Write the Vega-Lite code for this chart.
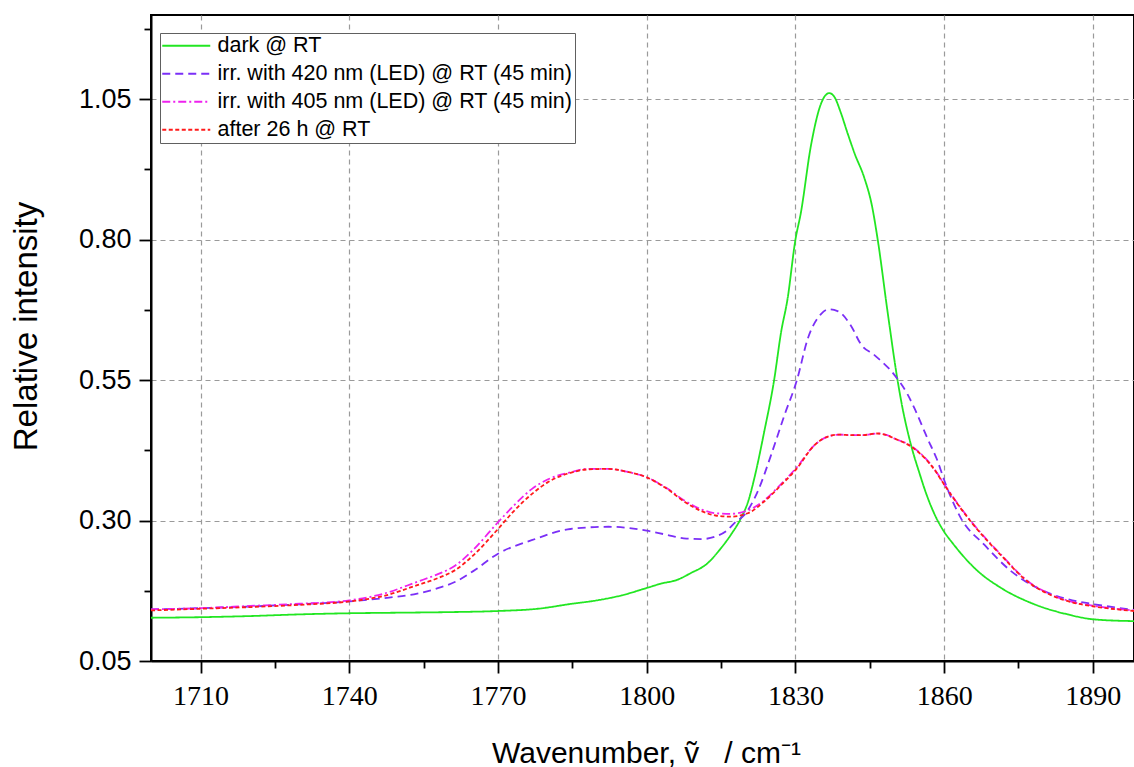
{
  "$schema": "https://vega.github.io/schema/vega-lite/v6.json",
  "autosize": {"type": "none"},
  "padding": {"left": 151, "top": 15, "right": 0, "bottom": 106},
  "width": 983,
  "height": 646,
  "background": "white",
  "config": {
    "font": "Liberation Sans",
    "view": {"stroke": "#000000", "strokeWidth": 2},
    "axis": {
      "domainColor": "#000000",
      "domainWidth": 2,
      "tickColor": "#000000",
      "tickWidth": 1.8,
      "labelColor": "#000000",
      "titleColor": "#000000",
      "titleFontWeight": "normal",
      "gridColor": "#9a9a9a",
      "gridDash": [5, 4],
      "gridWidth": 1.2
    }
  },
  "data": {
    "values": [
      {"wavenumber": 1700, "series": "dark @ RT", "intensity": 0.127},
      {"wavenumber": 1710, "series": "dark @ RT", "intensity": 0.128},
      {"wavenumber": 1720, "series": "dark @ RT", "intensity": 0.130},
      {"wavenumber": 1730, "series": "dark @ RT", "intensity": 0.133},
      {"wavenumber": 1740, "series": "dark @ RT", "intensity": 0.135},
      {"wavenumber": 1750, "series": "dark @ RT", "intensity": 0.136},
      {"wavenumber": 1760, "series": "dark @ RT", "intensity": 0.137},
      {"wavenumber": 1770, "series": "dark @ RT", "intensity": 0.139},
      {"wavenumber": 1778, "series": "dark @ RT", "intensity": 0.143},
      {"wavenumber": 1785, "series": "dark @ RT", "intensity": 0.152},
      {"wavenumber": 1790, "series": "dark @ RT", "intensity": 0.158},
      {"wavenumber": 1795, "series": "dark @ RT", "intensity": 0.167},
      {"wavenumber": 1800, "series": "dark @ RT", "intensity": 0.180},
      {"wavenumber": 1803, "series": "dark @ RT", "intensity": 0.188},
      {"wavenumber": 1806, "series": "dark @ RT", "intensity": 0.194},
      {"wavenumber": 1809, "series": "dark @ RT", "intensity": 0.207},
      {"wavenumber": 1812, "series": "dark @ RT", "intensity": 0.222},
      {"wavenumber": 1815, "series": "dark @ RT", "intensity": 0.251},
      {"wavenumber": 1817, "series": "dark @ RT", "intensity": 0.275},
      {"wavenumber": 1819, "series": "dark @ RT", "intensity": 0.304},
      {"wavenumber": 1820.5, "series": "dark @ RT", "intensity": 0.335},
      {"wavenumber": 1821.7, "series": "dark @ RT", "intensity": 0.375},
      {"wavenumber": 1823.7, "series": "dark @ RT", "intensity": 0.458},
      {"wavenumber": 1825.7, "series": "dark @ RT", "intensity": 0.550},
      {"wavenumber": 1827.1, "series": "dark @ RT", "intensity": 0.635},
      {"wavenumber": 1828.4, "series": "dark @ RT", "intensity": 0.694},
      {"wavenumber": 1830, "series": "dark @ RT", "intensity": 0.800},
      {"wavenumber": 1831.1, "series": "dark @ RT", "intensity": 0.848},
      {"wavenumber": 1833.1, "series": "dark @ RT", "intensity": 0.966},
      {"wavenumber": 1835.2, "series": "dark @ RT", "intensity": 1.043},
      {"wavenumber": 1836.8, "series": "dark @ RT", "intensity": 1.061},
      {"wavenumber": 1837.8, "series": "dark @ RT", "intensity": 1.055},
      {"wavenumber": 1839.2, "series": "dark @ RT", "intensity": 1.025},
      {"wavenumber": 1840.5, "series": "dark @ RT", "intensity": 0.990},
      {"wavenumber": 1842, "series": "dark @ RT", "intensity": 0.952},
      {"wavenumber": 1843.9, "series": "dark @ RT", "intensity": 0.910},
      {"wavenumber": 1845.4, "series": "dark @ RT", "intensity": 0.862},
      {"wavenumber": 1846.6, "series": "dark @ RT", "intensity": 0.800},
      {"wavenumber": 1848.6, "series": "dark @ RT", "intensity": 0.671},
      {"wavenumber": 1850.6, "series": "dark @ RT", "intensity": 0.550},
      {"wavenumber": 1851.5, "series": "dark @ RT", "intensity": 0.505},
      {"wavenumber": 1853.3, "series": "dark @ RT", "intensity": 0.435},
      {"wavenumber": 1855, "series": "dark @ RT", "intensity": 0.385},
      {"wavenumber": 1856.5, "series": "dark @ RT", "intensity": 0.345},
      {"wavenumber": 1858.4, "series": "dark @ RT", "intensity": 0.305},
      {"wavenumber": 1860, "series": "dark @ RT", "intensity": 0.280},
      {"wavenumber": 1861.6, "series": "dark @ RT", "intensity": 0.261},
      {"wavenumber": 1866.8, "series": "dark @ RT", "intensity": 0.210},
      {"wavenumber": 1871.5, "series": "dark @ RT", "intensity": 0.180},
      {"wavenumber": 1878.2, "series": "dark @ RT", "intensity": 0.151},
      {"wavenumber": 1884.9, "series": "dark @ RT", "intensity": 0.133},
      {"wavenumber": 1890.3, "series": "dark @ RT", "intensity": 0.124},
      {"wavenumber": 1898.3, "series": "dark @ RT", "intensity": 0.121},

      {"wavenumber": 1700, "series": "irr. with 420 nm (LED) @ RT (45 min)", "intensity": 0.142},
      {"wavenumber": 1710, "series": "irr. with 420 nm (LED) @ RT (45 min)", "intensity": 0.144},
      {"wavenumber": 1720, "series": "irr. with 420 nm (LED) @ RT (45 min)", "intensity": 0.147},
      {"wavenumber": 1730, "series": "irr. with 420 nm (LED) @ RT (45 min)", "intensity": 0.151},
      {"wavenumber": 1740, "series": "irr. with 420 nm (LED) @ RT (45 min)", "intensity": 0.156},
      {"wavenumber": 1748, "series": "irr. with 420 nm (LED) @ RT (45 min)", "intensity": 0.163},
      {"wavenumber": 1753.7, "series": "irr. with 420 nm (LED) @ RT (45 min)", "intensity": 0.170},
      {"wavenumber": 1758, "series": "irr. with 420 nm (LED) @ RT (45 min)", "intensity": 0.180},
      {"wavenumber": 1761.4, "series": "irr. with 420 nm (LED) @ RT (45 min)", "intensity": 0.191},
      {"wavenumber": 1765, "series": "irr. with 420 nm (LED) @ RT (45 min)", "intensity": 0.210},
      {"wavenumber": 1770, "series": "irr. with 420 nm (LED) @ RT (45 min)", "intensity": 0.241},
      {"wavenumber": 1776.8, "series": "irr. with 420 nm (LED) @ RT (45 min)", "intensity": 0.265},
      {"wavenumber": 1784.6, "series": "irr. with 420 nm (LED) @ RT (45 min)", "intensity": 0.285},
      {"wavenumber": 1792.3, "series": "irr. with 420 nm (LED) @ RT (45 min)", "intensity": 0.289},
      {"wavenumber": 1800, "series": "irr. with 420 nm (LED) @ RT (45 min)", "intensity": 0.282},
      {"wavenumber": 1803.9, "series": "irr. with 420 nm (LED) @ RT (45 min)", "intensity": 0.275},
      {"wavenumber": 1808, "series": "irr. with 420 nm (LED) @ RT (45 min)", "intensity": 0.268},
      {"wavenumber": 1811, "series": "irr. with 420 nm (LED) @ RT (45 min)", "intensity": 0.267},
      {"wavenumber": 1814, "series": "irr. with 420 nm (LED) @ RT (45 min)", "intensity": 0.272},
      {"wavenumber": 1816, "series": "irr. with 420 nm (LED) @ RT (45 min)", "intensity": 0.281},
      {"wavenumber": 1818, "series": "irr. with 420 nm (LED) @ RT (45 min)", "intensity": 0.298},
      {"wavenumber": 1819.7, "series": "irr. with 420 nm (LED) @ RT (45 min)", "intensity": 0.310},
      {"wavenumber": 1822.4, "series": "irr. with 420 nm (LED) @ RT (45 min)", "intensity": 0.352},
      {"wavenumber": 1825.1, "series": "irr. with 420 nm (LED) @ RT (45 min)", "intensity": 0.417},
      {"wavenumber": 1827.8, "series": "irr. with 420 nm (LED) @ RT (45 min)", "intensity": 0.488},
      {"wavenumber": 1830.3, "series": "irr. with 420 nm (LED) @ RT (45 min)", "intensity": 0.550},
      {"wavenumber": 1832.5, "series": "irr. with 420 nm (LED) @ RT (45 min)", "intensity": 0.624},
      {"wavenumber": 1835.2, "series": "irr. with 420 nm (LED) @ RT (45 min)", "intensity": 0.668},
      {"wavenumber": 1836.6, "series": "irr. with 420 nm (LED) @ RT (45 min)", "intensity": 0.676},
      {"wavenumber": 1838.5, "series": "irr. with 420 nm (LED) @ RT (45 min)", "intensity": 0.673},
      {"wavenumber": 1841.2, "series": "irr. with 420 nm (LED) @ RT (45 min)", "intensity": 0.647},
      {"wavenumber": 1843.2, "series": "irr. with 420 nm (LED) @ RT (45 min)", "intensity": 0.614},
      {"wavenumber": 1846, "series": "irr. with 420 nm (LED) @ RT (45 min)", "intensity": 0.594},
      {"wavenumber": 1850, "series": "irr. with 420 nm (LED) @ RT (45 min)", "intensity": 0.559},
      {"wavenumber": 1852.6, "series": "irr. with 420 nm (LED) @ RT (45 min)", "intensity": 0.525},
      {"wavenumber": 1854, "series": "irr. with 420 nm (LED) @ RT (45 min)", "intensity": 0.500},
      {"wavenumber": 1856.7, "series": "irr. with 420 nm (LED) @ RT (45 min)", "intensity": 0.445},
      {"wavenumber": 1858.5, "series": "irr. with 420 nm (LED) @ RT (45 min)", "intensity": 0.410},
      {"wavenumber": 1860.3, "series": "irr. with 420 nm (LED) @ RT (45 min)", "intensity": 0.365},
      {"wavenumber": 1863.4, "series": "irr. with 420 nm (LED) @ RT (45 min)", "intensity": 0.304},
      {"wavenumber": 1868.1, "series": "irr. with 420 nm (LED) @ RT (45 min)", "intensity": 0.257},
      {"wavenumber": 1873.5, "series": "irr. with 420 nm (LED) @ RT (45 min)", "intensity": 0.210},
      {"wavenumber": 1878.8, "series": "irr. with 420 nm (LED) @ RT (45 min)", "intensity": 0.180},
      {"wavenumber": 1884.9, "series": "irr. with 420 nm (LED) @ RT (45 min)", "intensity": 0.160},
      {"wavenumber": 1890.3, "series": "irr. with 420 nm (LED) @ RT (45 min)", "intensity": 0.151},
      {"wavenumber": 1898.3, "series": "irr. with 420 nm (LED) @ RT (45 min)", "intensity": 0.141},

      {"wavenumber": 1700, "series": "irr. with 405 nm (LED) @ RT (45 min)", "intensity": 0.142},
      {"wavenumber": 1710, "series": "irr. with 405 nm (LED) @ RT (45 min)", "intensity": 0.144},
      {"wavenumber": 1720, "series": "irr. with 405 nm (LED) @ RT (45 min)", "intensity": 0.148},
      {"wavenumber": 1730, "series": "irr. with 405 nm (LED) @ RT (45 min)", "intensity": 0.152},
      {"wavenumber": 1740, "series": "irr. with 405 nm (LED) @ RT (45 min)", "intensity": 0.158},
      {"wavenumber": 1747, "series": "irr. with 405 nm (LED) @ RT (45 min)", "intensity": 0.170},
      {"wavenumber": 1753.7, "series": "irr. with 405 nm (LED) @ RT (45 min)", "intensity": 0.191},
      {"wavenumber": 1758, "series": "irr. with 405 nm (LED) @ RT (45 min)", "intensity": 0.205},
      {"wavenumber": 1761.4, "series": "irr. with 405 nm (LED) @ RT (45 min)", "intensity": 0.220},
      {"wavenumber": 1765, "series": "irr. with 405 nm (LED) @ RT (45 min)", "intensity": 0.248},
      {"wavenumber": 1770, "series": "irr. with 405 nm (LED) @ RT (45 min)", "intensity": 0.297},
      {"wavenumber": 1773, "series": "irr. with 405 nm (LED) @ RT (45 min)", "intensity": 0.325},
      {"wavenumber": 1776.8, "series": "irr. with 405 nm (LED) @ RT (45 min)", "intensity": 0.356},
      {"wavenumber": 1780, "series": "irr. with 405 nm (LED) @ RT (45 min)", "intensity": 0.373},
      {"wavenumber": 1784.6, "series": "irr. with 405 nm (LED) @ RT (45 min)", "intensity": 0.386},
      {"wavenumber": 1788, "series": "irr. with 405 nm (LED) @ RT (45 min)", "intensity": 0.392},
      {"wavenumber": 1792.3, "series": "irr. with 405 nm (LED) @ RT (45 min)", "intensity": 0.392},
      {"wavenumber": 1796, "series": "irr. with 405 nm (LED) @ RT (45 min)", "intensity": 0.387},
      {"wavenumber": 1800, "series": "irr. with 405 nm (LED) @ RT (45 min)", "intensity": 0.377},
      {"wavenumber": 1804, "series": "irr. with 405 nm (LED) @ RT (45 min)", "intensity": 0.358},
      {"wavenumber": 1807.7, "series": "irr. with 405 nm (LED) @ RT (45 min)", "intensity": 0.335},
      {"wavenumber": 1811, "series": "irr. with 405 nm (LED) @ RT (45 min)", "intensity": 0.320},
      {"wavenumber": 1813.9, "series": "irr. with 405 nm (LED) @ RT (45 min)", "intensity": 0.313},
      {"wavenumber": 1817, "series": "irr. with 405 nm (LED) @ RT (45 min)", "intensity": 0.312},
      {"wavenumber": 1820.4, "series": "irr. with 405 nm (LED) @ RT (45 min)", "intensity": 0.318},
      {"wavenumber": 1823.7, "series": "irr. with 405 nm (LED) @ RT (45 min)", "intensity": 0.336},
      {"wavenumber": 1827.1, "series": "irr. with 405 nm (LED) @ RT (45 min)", "intensity": 0.365},
      {"wavenumber": 1830.3, "series": "irr. with 405 nm (LED) @ RT (45 min)", "intensity": 0.395},
      {"wavenumber": 1833.8, "series": "irr. with 405 nm (LED) @ RT (45 min)", "intensity": 0.434},
      {"wavenumber": 1837.1, "series": "irr. with 405 nm (LED) @ RT (45 min)", "intensity": 0.451},
      {"wavenumber": 1839, "series": "irr. with 405 nm (LED) @ RT (45 min)", "intensity": 0.453},
      {"wavenumber": 1841.2, "series": "irr. with 405 nm (LED) @ RT (45 min)", "intensity": 0.452},
      {"wavenumber": 1843.5, "series": "irr. with 405 nm (LED) @ RT (45 min)", "intensity": 0.452},
      {"wavenumber": 1846.5, "series": "irr. with 405 nm (LED) @ RT (45 min)", "intensity": 0.455},
      {"wavenumber": 1848.5, "series": "irr. with 405 nm (LED) @ RT (45 min)", "intensity": 0.452},
      {"wavenumber": 1850, "series": "irr. with 405 nm (LED) @ RT (45 min)", "intensity": 0.446},
      {"wavenumber": 1853.3, "series": "irr. with 405 nm (LED) @ RT (45 min)", "intensity": 0.433},
      {"wavenumber": 1856, "series": "irr. with 405 nm (LED) @ RT (45 min)", "intensity": 0.413},
      {"wavenumber": 1858, "series": "irr. with 405 nm (LED) @ RT (45 min)", "intensity": 0.392},
      {"wavenumber": 1860.3, "series": "irr. with 405 nm (LED) @ RT (45 min)", "intensity": 0.361},
      {"wavenumber": 1865.4, "series": "irr. with 405 nm (LED) @ RT (45 min)", "intensity": 0.299},
      {"wavenumber": 1871.5, "series": "irr. with 405 nm (LED) @ RT (45 min)", "intensity": 0.239},
      {"wavenumber": 1876.9, "series": "irr. with 405 nm (LED) @ RT (45 min)", "intensity": 0.192},
      {"wavenumber": 1881.6, "series": "irr. with 405 nm (LED) @ RT (45 min)", "intensity": 0.168},
      {"wavenumber": 1886, "series": "irr. with 405 nm (LED) @ RT (45 min)", "intensity": 0.155},
      {"wavenumber": 1890.3, "series": "irr. with 405 nm (LED) @ RT (45 min)", "intensity": 0.148},
      {"wavenumber": 1898.3, "series": "irr. with 405 nm (LED) @ RT (45 min)", "intensity": 0.140},

      {"wavenumber": 1700, "series": "after 26 h @ RT", "intensity": 0.140},
      {"wavenumber": 1710, "series": "after 26 h @ RT", "intensity": 0.143},
      {"wavenumber": 1720, "series": "after 26 h @ RT", "intensity": 0.146},
      {"wavenumber": 1730, "series": "after 26 h @ RT", "intensity": 0.150},
      {"wavenumber": 1740, "series": "after 26 h @ RT", "intensity": 0.156},
      {"wavenumber": 1747, "series": "after 26 h @ RT", "intensity": 0.166},
      {"wavenumber": 1753.7, "series": "after 26 h @ RT", "intensity": 0.185},
      {"wavenumber": 1758, "series": "after 26 h @ RT", "intensity": 0.198},
      {"wavenumber": 1761.4, "series": "after 26 h @ RT", "intensity": 0.212},
      {"wavenumber": 1765, "series": "after 26 h @ RT", "intensity": 0.238},
      {"wavenumber": 1770, "series": "after 26 h @ RT", "intensity": 0.285},
      {"wavenumber": 1773, "series": "after 26 h @ RT", "intensity": 0.315},
      {"wavenumber": 1776.8, "series": "after 26 h @ RT", "intensity": 0.347},
      {"wavenumber": 1780, "series": "after 26 h @ RT", "intensity": 0.368},
      {"wavenumber": 1784.6, "series": "after 26 h @ RT", "intensity": 0.385},
      {"wavenumber": 1788, "series": "after 26 h @ RT", "intensity": 0.391},
      {"wavenumber": 1792.3, "series": "after 26 h @ RT", "intensity": 0.392},
      {"wavenumber": 1796, "series": "after 26 h @ RT", "intensity": 0.387},
      {"wavenumber": 1800, "series": "after 26 h @ RT", "intensity": 0.377},
      {"wavenumber": 1804, "series": "after 26 h @ RT", "intensity": 0.357},
      {"wavenumber": 1807.7, "series": "after 26 h @ RT", "intensity": 0.333},
      {"wavenumber": 1811, "series": "after 26 h @ RT", "intensity": 0.317},
      {"wavenumber": 1813.9, "series": "after 26 h @ RT", "intensity": 0.309},
      {"wavenumber": 1817, "series": "after 26 h @ RT", "intensity": 0.307},
      {"wavenumber": 1820.4, "series": "after 26 h @ RT", "intensity": 0.313},
      {"wavenumber": 1823.7, "series": "after 26 h @ RT", "intensity": 0.334},
      {"wavenumber": 1827.1, "series": "after 26 h @ RT", "intensity": 0.363},
      {"wavenumber": 1830.3, "series": "after 26 h @ RT", "intensity": 0.393},
      {"wavenumber": 1833.8, "series": "after 26 h @ RT", "intensity": 0.434},
      {"wavenumber": 1837.1, "series": "after 26 h @ RT", "intensity": 0.451},
      {"wavenumber": 1839, "series": "after 26 h @ RT", "intensity": 0.453},
      {"wavenumber": 1841.2, "series": "after 26 h @ RT", "intensity": 0.452},
      {"wavenumber": 1843.5, "series": "after 26 h @ RT", "intensity": 0.452},
      {"wavenumber": 1846.5, "series": "after 26 h @ RT", "intensity": 0.455},
      {"wavenumber": 1848.5, "series": "after 26 h @ RT", "intensity": 0.452},
      {"wavenumber": 1850, "series": "after 26 h @ RT", "intensity": 0.446},
      {"wavenumber": 1853.3, "series": "after 26 h @ RT", "intensity": 0.432},
      {"wavenumber": 1856, "series": "after 26 h @ RT", "intensity": 0.412},
      {"wavenumber": 1858, "series": "after 26 h @ RT", "intensity": 0.391},
      {"wavenumber": 1860.3, "series": "after 26 h @ RT", "intensity": 0.360},
      {"wavenumber": 1865.4, "series": "after 26 h @ RT", "intensity": 0.298},
      {"wavenumber": 1871.5, "series": "after 26 h @ RT", "intensity": 0.238},
      {"wavenumber": 1876.9, "series": "after 26 h @ RT", "intensity": 0.191},
      {"wavenumber": 1881.6, "series": "after 26 h @ RT", "intensity": 0.167},
      {"wavenumber": 1886, "series": "after 26 h @ RT", "intensity": 0.154},
      {"wavenumber": 1890.3, "series": "after 26 h @ RT", "intensity": 0.147},
      {"wavenumber": 1898.3, "series": "after 26 h @ RT", "intensity": 0.139}
    ]
  },
  "mark": {"type": "line", "interpolate": "monotone", "strokeWidth": 1.8, "clip": true},
  "encoding": {
    "x": {
      "field": "wavenumber",
      "type": "quantitative",
      "scale": {"domain": [1700, 1898.3], "nice": false, "zero": false},
      "axis": {
        "title": "Wavenumber, ṽ\u00a0\u00a0\u00a0/ cm⁻¹",
        "titleFont": "Liberation Sans",
        "titleFontSize": 30,
        "titleAlign": "center",
        "titleBaseline": "alphabetic",
        "titleX": 495,
        "titleY": 101,
        "values": [1710, 1725, 1740, 1755, 1770, 1785, 1800, 1815, 1830, 1845, 1860, 1875, 1890],
        "format": "d",
        "labelExpr": "datum.value % 30 == 0 ? datum.label : ''",
        "labelFont": "Liberation Sans Narrow",
        "labelFontSize": 28,
        "labelPadding": 9,
        "tickSize": {"condition": {"test": "datum.value % 30 == 0", "value": 12}, "value": 7},
        "gridOpacity": {"condition": {"test": "datum.value % 30 == 0", "value": 1}, "value": 0}
      }
    },
    "y": {
      "field": "intensity",
      "type": "quantitative",
      "scale": {"domain": [0.05, 1.2], "nice": false, "zero": false},
      "axis": {
        "title": "Relative intensity",
        "titleFont": "Liberation Sans",
        "titleFontSize": 33,
        "titleAlign": "center",
        "titleBaseline": "alphabetic",
        "titleAngle": -90,
        "titleX": -115,
        "titleY": 311,
        "values": [0.05, 0.175, 0.3, 0.425, 0.55, 0.675, 0.8, 0.925, 1.05, 1.175],
        "format": ".2f",
        "labelExpr": "abs((datum.value - 0.05) / 0.25 - round((datum.value - 0.05) / 0.25)) < 0.01 ? datum.label : ''",
        "labelFont": "Liberation Sans",
        "labelFontSize": 27,
        "labelPadding": 8,
        "tickSize": {"condition": {"test": "abs((datum.value - 0.05) / 0.25 - round((datum.value - 0.05) / 0.25)) < 0.01", "value": 12}, "value": 7},
        "gridOpacity": {"condition": {"test": "abs((datum.value - 0.05) / 0.25 - round((datum.value - 0.05) / 0.25)) < 0.01", "value": 1}, "value": 0}
      }
    },
    "color": {
      "field": "series",
      "type": "nominal",
      "scale": {
        "domain": ["dark @ RT", "irr. with 420 nm (LED) @ RT (45 min)", "irr. with 405 nm (LED) @ RT (45 min)", "after 26 h @ RT"],
        "range": ["#22e622", "#7b2ff7", "#ee22ee", "#ff1a1a"]
      },
      "legend": {
        "title": null,
        "orient": "none",
        "legendX": 9,
        "legendY": 18,
        "direction": "vertical",
        "fillColor": "white",
        "strokeColor": "#606060",
        "padding": 2,
        "cornerRadius": 0,
        "symbolType": "M-1.75,0H6.25",
        "symbolSize": 144,
        "symbolStrokeWidth": 2,
        "labelFont": "Liberation Sans",
        "labelFontSize": 21.5,
        "labelColor": "#000000",
        "labelOffset": 34,
        "labelLimit": 500,
        "rowPadding": 5,
        "encoding": {
          "legend": {"update": {"strokeWidth": {"value": 1.5}}}
        }
      }
    },
    "strokeDash": {
      "field": "series",
      "type": "nominal",
      "scale": {
        "domain": ["dark @ RT", "irr. with 420 nm (LED) @ RT (45 min)", "irr. with 405 nm (LED) @ RT (45 min)", "after 26 h @ RT"],
        "range": [[1, 0], [8, 5], [8, 3, 2, 3], [4, 2.5]]
      }
    }
  }
}
